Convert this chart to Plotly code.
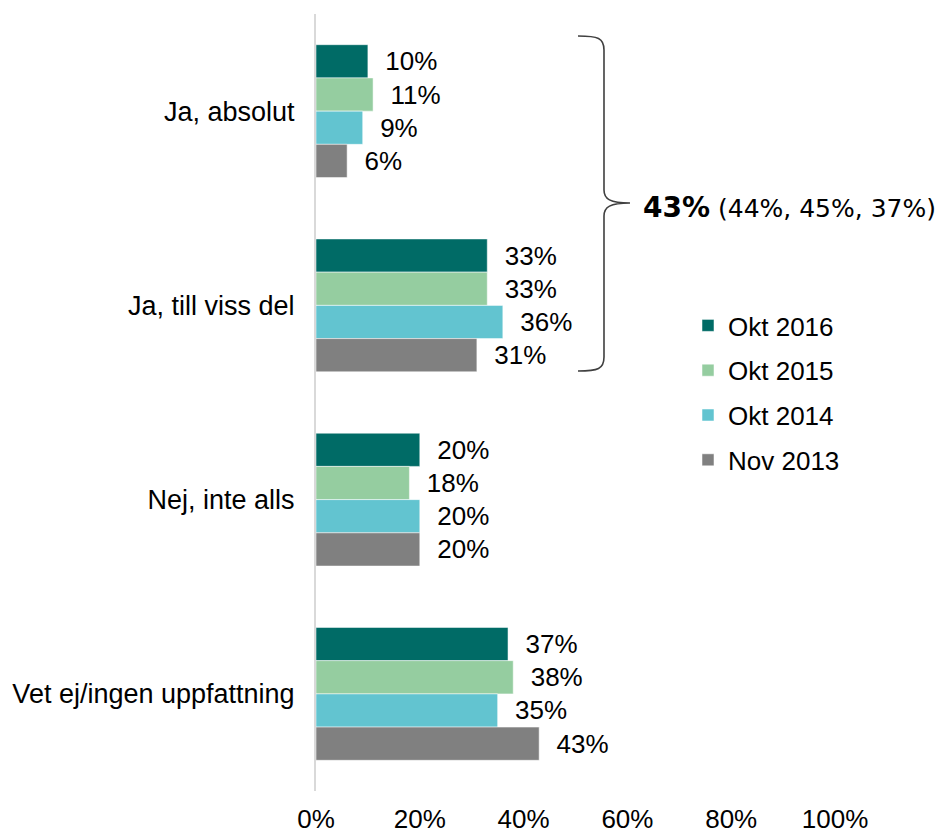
import plotly.graph_objects as go

categories = ["Ja, absolut", "Ja, till viss del", "Nej, inte alls", "Vet ej/ingen uppfattning"]
series_names = ["Okt 2016", "Okt 2015", "Okt 2014", "Nov 2013"]
okt2016 = [10, 33, 20, 37]
okt2015 = [11, 33, 18, 38]
okt2014 = [9, 36, 20, 35]
nov2013 = [6, 31, 20, 43]
series_values = [okt2016, okt2015, okt2014, nov2013]
colors = ["#006B66", "#95CDA0", "#62C4D0", "#808080"]
x_ticks = [0, 20, 40, 60, 80, 100]
x_ticklabels = ["0%", "20%", "40%", "60%", "80%", "100%"]
brace_text = "<span style='font-size:28px'><b>43%</b></span> (44%, 45%, 37%)"

OFF = 8  # page body margin
W, H = 943 - OFF, 835 - OFF
L, R, T, B = 316 - OFF, 108, 14 - OFF, 44
PW, PH = W - L - R, H - T - B

def px(x):  # page pixel -> paper
    return (x - OFF - L) / PW

def py(y):
    return (H - B - (y - OFF)) / PH

FONT = "Liberation Sans, Arial, sans-serif"

fig = go.Figure()
for i, (name, vals, col) in enumerate(zip(series_names, series_values, colors)):
    fig.add_trace(go.Bar(
        y=categories, x=vals, name=name, orientation="h",
        marker=dict(color=col, line=dict(color="rgba(255,255,255,0.5)", width=1)),
        text=["\u00a0\u00a0" + str(v) + "%" for v in vals], textposition="outside",
        textfont=dict(size=26, color="#000", family=FONT),
        cliponaxis=False, legendgroup=f"g{i}", hoverinfo="x+y+name",
    ))

def P(x, y):
    return f"{px(x):.5f},{py(y):.5f}"

path = (f"M {P(578,36)} C {P(598,36)} {P(604,38)} {P(604,50)} "
        f"L {P(604,190)} C {P(604,199)} {P(610,203)} {P(630,203)} "
        f"M {P(630,203)} C {P(610,203)} {P(604,207)} {P(604,216)} "
        f"L {P(604,357)} C {P(604,369)} {P(598,371)} {P(578,371)}")
fig.add_shape(type="path", path=path, xref="paper", yref="paper",
              line=dict(color="#404040", width=1.6))
fig.add_annotation(x=px(641), y=py(207), xref="paper", yref="paper",
                   xanchor="left", yanchor="middle", showarrow=False,
                   text=brace_text, font=dict(size=25, color="#000", family="DejaVu Sans, sans-serif"))

fig.update_layout(
    width=W, height=H, margin=dict(l=L, r=R, t=T, b=B, autoexpand=False),
    paper_bgcolor="white", plot_bgcolor="white",
    barmode="group", bargap=0.316, bargroupgap=0,
    font=dict(family=FONT, size=26, color="#000"),
    showlegend=True,
    legend=dict(x=px(688), y=py(302), xanchor="left", yanchor="top",
                font=dict(size=26, family=FONT), tracegroupgap=8,
                bgcolor="rgba(0,0,0,0)", itemwidth=30, traceorder="grouped"),
    xaxis=dict(range=[0, 100], tickvals=x_ticks, ticktext=x_ticklabels,
               showgrid=False, zeroline=False, showline=False, ticks="",
               ticklabelstandoff=10, automargin=False, fixedrange=True),
    yaxis=dict(autorange="reversed", showgrid=False, zeroline=False,
               showline=True, linecolor="#D9D9D9", linewidth=2, ticks="",
               ticklabelstandoff=14, automargin=False, fixedrange=True,
               tickfont=dict(size=27)),
)
fig.write_html("out.html")
